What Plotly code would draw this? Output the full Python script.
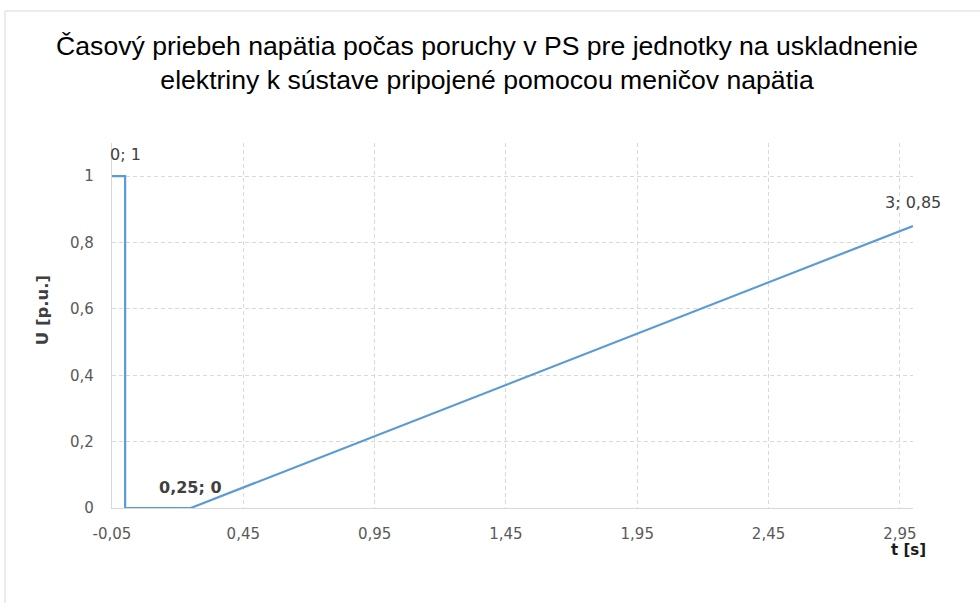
import plotly.graph_objects as go

# data
t_values = [-0.05, 0.0, 0.0, 0.25, 3.0]
u_values = [1.0, 1.0, 0.0, 0.0, 0.85]
x_tick_vals = [-0.05, 0.45, 0.95, 1.45, 1.95, 2.45, 2.95]
x_tick_text = ["-0,05", "0,45", "0,95", "1,45", "1,95", "2,45", "2,95"]
y_tick_vals = [0, 0.2, 0.4, 0.6, 0.8, 1.0]
y_tick_text = ["0", "0,2", "0,4", "0,6", "0,8", "1"]
label_points = [(0.0, 1.0, "0; 1", False, 22), (0.25, 0.0, "0,25; 0", True, 21), (3.0, 0.85, "3; 0,85", False, 23)]

title = ("Časový priebeh napätia počas poruchy v PS pre jednotky na uskladnenie<br>"
         "elektriny k sústave pripojené pomocou meničov napätia")

fig = go.Figure()
fig.add_trace(go.Scatter(x=t_values, y=u_values, mode="lines", cliponaxis=False,
                         line=dict(color="#5B9BD5", width=2.2), hoverinfo="skip"))

ann = []
for x, y, txt, bold, ys in label_points:
    ann.append(dict(x=x, y=y, xref="x", yref="y", text=("<b>%s</b>" % txt) if bold else txt,
                    showarrow=False, yshift=ys, xanchor="center", yanchor="middle",
                    font=dict(family="DejaVu Sans", size=16, color="#404040")))
ann.append(dict(x=-0.0874, y=0.542, xref="paper", yref="paper", text="<b>U [p.u.]</b>",
                textangle=-90, showarrow=False, xanchor="center", yanchor="middle",
                font=dict(family="DejaVu Sans", size=16.5, color="#404040")))
ann.append(dict(x=0.995, y=-0.115, xref="paper", yref="paper", text="<b>t [s]</b>",
                showarrow=False, xanchor="center", yanchor="middle",
                font=dict(family="DejaVu Sans", size=15, color="#1a1a1a")))

fig.update_layout(
    width=980, height=603,
    margin=dict(l=112, r=67, t=143, b=95),
    paper_bgcolor="white", plot_bgcolor="white",
    showlegend=False,
    title=dict(text=title, x=0.497, xref="container", xanchor="center",
               y=0.909, yref="container", yanchor="middle",
               font=dict(family="Liberation Sans, Arial", size=26.6, color="#000000")),
    annotations=ann,
    shapes=[dict(type="rect", xref="paper", yref="paper", x0=-0.1336, y0=-0.4,
                 x1=1.3, y1=1.3616, line=dict(color="#D9D9D9", width=1), layer="below")],
)
fig.update_xaxes(range=[-0.05, 3.0], tickvals=x_tick_vals, ticktext=x_tick_text,
                 showgrid=True, gridcolor="#D9D9D9", griddash="4px,3px", gridwidth=1,
                 showline=True, linecolor="#D9D9D9", linewidth=1.3, zeroline=False,
                 ticks="", ticklabelstandoff=12,
                 tickfont=dict(family="DejaVu Sans", size=15, color="#595959"))
fig.update_yaxes(range=[0, 1.1], tickvals=y_tick_vals, ticktext=y_tick_text,
                 showgrid=True, gridcolor="#D9D9D9", griddash="4px,3px", gridwidth=1,
                 showline=True, linecolor="#D9D9D9", linewidth=1.3, zeroline=False,
                 ticks="", ticklabelstandoff=14,
                 tickfont=dict(family="DejaVu Sans", size=15, color="#595959"))

fig.write_html("out.html", config={"displayModeBar": False},
               post_script="document.body.style.margin='0px';")
